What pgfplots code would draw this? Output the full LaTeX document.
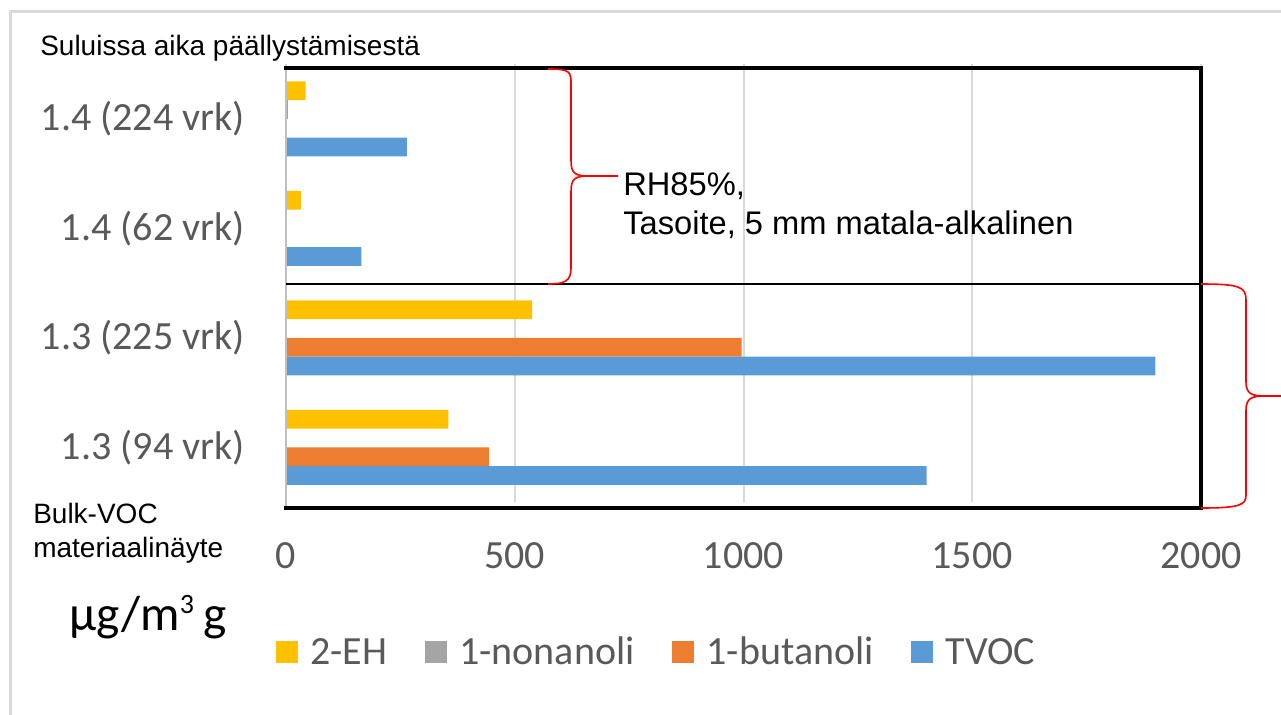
\documentclass[border=0pt]{standalone}
\usepackage{pgfplots}
\pgfplotsset{compat=1.18}
\usepackage{pgfplotstable}
\usepackage{fontspec}
\setmainfont{Liberation Sans}
\newfontfamily\carlito{Carlito}
\definecolor{cEH}{HTML}{FFC000}
\definecolor{cNon}{HTML}{A5A5A5}
\definecolor{cBut}{HTML}{ED7D31}
\definecolor{cTV}{HTML}{5B9BD5}
\definecolor{txtgray}{HTML}{595959}
\definecolor{gridgray}{HTML}{D9D9D9}
\definecolor{axgray}{HTML}{BFBFBF}
\pgfplotstableread{
y EH non but tvoc
0 355 0 444 1400
1 538 0 996 1900
2 33 0 0 165
3 43 4 0 264
}\data
\newcommand{\calfont}{\carlito\fontsize{30}{36}\selectfont}
\begin{document}
\begin{tikzpicture}
\useasboundingbox (0,0) rectangle (960.75pt,-535.5pt);
\begin{axis}[
 at={(214.5pt,-376.5pt)}, anchor=south west,
 scale only axis, width=686.25pt, height=328.5pt,
 xbar, bar width=14.06pt,
 xmin=0, xmax=2000, ymin=-0.5, ymax=3.5,
 xtick={0,500,1000,1500,2000},
 ytick={0,1,2,3},
 yticklabels={1.3 (94 vrk),1.3 (225 vrk),1.4 (62 vrk),1.4 (224 vrk)},
 major tick length=0pt,
 axis line style={draw=none},
 xmajorgrids, major grid style={gridgray, line width=1.5pt},
 /pgf/number format/assume math mode=true,
 /pgf/number format/1000 sep={},
 xticklabel style={font=\calfont, text=txtgray, anchor=north, inner sep=0pt, yshift=-30pt},
 yticklabel style={font=\calfont, text=txtgray, anchor=east, inner sep=0pt, xshift=-30.75pt},
 legend style={at={(-0.0115,-0.3425)}, anchor=west, draw=none, fill=none, inner sep=0pt,
   font=\calfont, text=txtgray, legend columns=4,
   /tikz/every odd column/.append style={column sep=9.5pt},
   /tikz/every even column/.append style={column sep=28pt},
   nodes={inner sep=0pt}},
 clip=false,
]
\addplot[fill=cEH, draw=none, bar shift=21.09pt, legend image code/.code={\fill[cEH] (0pt,-8.25pt) rectangle (16.5pt,8.25pt);}] table[x=EH, y=y] {\data};
\addplot[fill=cNon, draw=none, bar shift=7.03pt, legend image code/.code={\fill[cNon] (0pt,-8.25pt) rectangle (16.5pt,8.25pt);}] table[x=non, y=y] {\data};
\addplot[fill=cBut, draw=none, bar shift=-7.03pt, legend image code/.code={\fill[cBut] (0pt,-8.25pt) rectangle (16.5pt,8.25pt);}] table[x=but, y=y] {\data};
\addplot[fill=cTV, draw=none, bar shift=-21.09pt, legend image code/.code={\fill[cTV] (0pt,-8.25pt) rectangle (16.5pt,8.25pt);}] table[x=tvoc, y=y] {\data};
\legend{2-EH, 1-nonanoli, 1-butanoli, TVOC}
\end{axis}
\begin{scope}[x=0.75pt, y=-0.75pt]
 \draw[gridgray, line width=2.25pt] (10,720) -- (10,11) -- (1290,11);
 \draw[axgray, line width=1.5pt] (286,68) -- (286,508);
 \draw[black, line width=1.5pt] (286,284) -- (1201,284);
 \draw[black, line width=3pt] (284,68) -- (1201,68) -- (1201,508) -- (284,508);
 \draw[red, line width=1.2pt] (548,69) .. controls (571,69) and (571,72) .. (571,85) -- (571,160) .. controls (571,174) and (575,176) .. (590,176) -- (618,176)
   (590,176) .. controls (575,176) and (571,178) .. (571,192) -- (571,268) .. controls (571,281) and (565,284) .. (548,284);
 \draw[red, line width=1.2pt] (1201,284) .. controls (1240,284) and (1246,287) .. (1246,300) -- (1246,382) .. controls (1246,394) and (1252,396) .. (1265,396) -- (1290,396)
   (1265,396) .. controls (1252,396) and (1246,398) .. (1246,410) -- (1246,495) .. controls (1246,505) and (1240,508) .. (1201,508);
 \node[anchor=base west, inner sep=0pt, font=\fontsize{21}{25}\selectfont] at (40,55) {Suluissa aika päällystämisestä};
 \node[anchor=base west, inner sep=0pt, font=\fontsize{24.5}{29}\selectfont] at (623,195) {RH85\%,};
 \node[anchor=base west, inner sep=0pt, font=\fontsize{24.5}{29}\selectfont] at (623,234) {Tasoite, 5 mm matala-alkalinen};
 \node[anchor=base west, inner sep=0pt, font=\fontsize{21}{25}\selectfont] at (33,523) {Bulk-VOC};
 \node[anchor=base west, inner sep=0pt, font=\fontsize{21}{25}\selectfont] at (33,557) {materiaalinäyte};
 \node[anchor=base west, inner sep=0pt, font=\carlito\fontsize{37}{42}\selectfont] at (69,630) {µg/m\raisebox{12.5pt}{\fontsize{21}{21}\selectfont 3}\hspace{7pt}g};
\end{scope}
\end{tikzpicture}
\end{document}
